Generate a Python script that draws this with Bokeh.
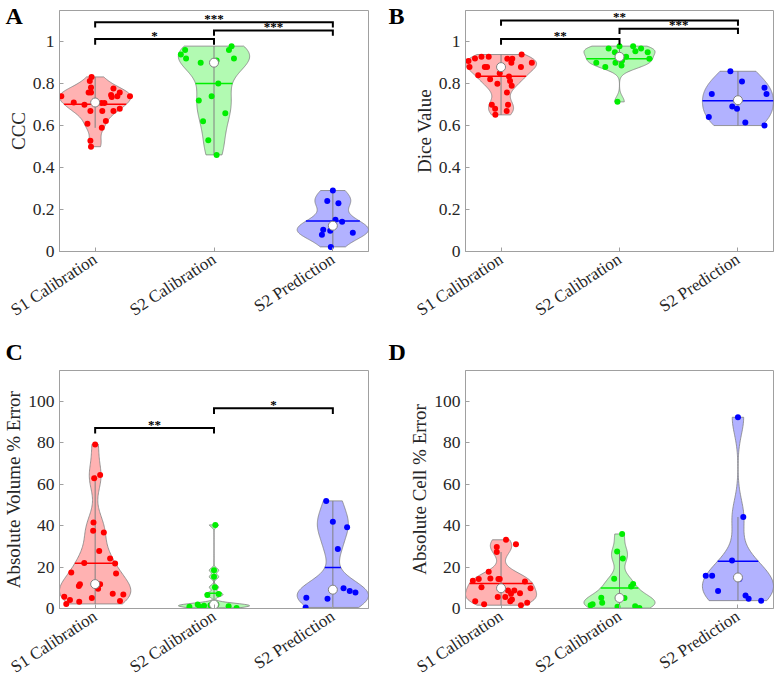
import numpy as np
from bokeh.plotting import figure
from bokeh.layouts import gridplot
from bokeh.models import FixedTicker, Range1d, Title
from bokeh.core.properties import value
from bokeh.embed import file_html
from bokeh.resources import INLINE

FONT = "Liberation Serif"
AXIS_GRAY = "#a0a0a0"
EDGE_GRAY = "#808080"
TEXT_DARK = "#262626"

categories = ["S1 Calibration", "S2 Calibration", "S2 Prediction"]
positions = [1, 2, 3]
colors = ["#ff0000", "#00ee00", "#0000ff"]

# ---------------- Panel A: CCC ----------------
ccc_s1 = [0.741, 0.711, 0.700, 0.833, 0.813, 0.783, 0.759, 0.759, 0.671, 0.610, 0.528, 0.500, 0.709,
          0.709, 0.671, 0.590, 0.623, 0.778, 0.747, 0.737, 0.741, 0.759, 0.741, 0.670, 0.681]
ccc_s1_jit = [-0.285, -0.180, -0.090, -0.030, -0.045, -0.035, -0.055, -0.035, -0.040, -0.065, -0.040, -0.035, 0.053,
              0.078, 0.060, 0.056, 0.090, 0.154, 0.134, 0.140, 0.187, 0.207, 0.293, 0.154, 0.207]
ccc_s2 = [0.940, 0.961, 0.921, 0.901, 0.912, 0.961, 0.980, 0.921, 0.802, 0.741, 0.720, 0.660, 0.621, 0.531, 0.461]
ccc_s2_jit = [-0.279, -0.243, -0.235, -0.112, 0.022, 0.126, 0.148, 0.168, 0.036, -0.020, -0.128, 0.095, -0.092, -0.048, 0.022]
ccc_p2 = [0.291, 0.241, 0.230, 0.151, 0.142, 0.090, 0.104, 0.080, 0.099, 0.022]
ccc_p2_jit = [0.000, -0.047, 0.047, 0.022, 0.078, 0.168, -0.081, -0.092, -0.022, -0.017]
ccc_br_from = [1, 1, 2]
ccc_br_to = [2, 3, 3]
ccc_br_top = [1.014, 1.094, 1.055]
ccc_br_foot = [0.987, 1.069, 1.030]
ccc_br_stars = ["*", "***", "***"]

# ---------------- Panel B: Dice ----------------
dice_s1 = [0.909, 0.921, 0.929, 0.929, 0.880, 0.841, 0.880, 0.880, 0.822, 0.800, 0.851, 0.700, 0.681, 0.652,
           0.920, 0.920, 0.901, 0.835, 0.814, 0.791, 0.759, 0.700, 0.670, 0.940, 0.880, 0.901, 0.880]
dice_s1_jit = [-0.275, -0.220, -0.165, -0.104, -0.266, -0.193, -0.137, -0.118, -0.092, -0.031, -0.011, -0.078, -0.050, -0.048,
               0.053, 0.095, 0.087, 0.067, 0.076, 0.090, 0.050, 0.059, 0.048, 0.174, 0.168, 0.260, 0.000]
dice_s2 = [0.969, 0.951, 0.980, 0.980, 0.969, 0.956, 0.951, 0.920, 0.901, 0.880, 0.901, 0.929, 0.912, 0.888, 0.714]
dice_s2_jit = [-0.092, -0.039, 0.000, 0.115, 0.182, 0.134, 0.238, 0.252, -0.196, -0.120, -0.034, 0.056, 0.022, 0.017, -0.017]
dice_p2 = [0.860, 0.811, 0.752, 0.781, 0.752, 0.692, 0.681, 0.642, 0.616, 0.601]
dice_p2_jit = [-0.064, 0.034, -0.221, 0.224, 0.241, -0.048, -0.008, -0.246, 0.062, 0.224]
dice_br_from = [1, 1, 2]
dice_br_to = [2, 3, 3]
dice_br_top = [1.014, 1.102, 1.063]
dice_br_foot = [0.987, 1.077, 1.038]
dice_br_stars = ["**", "**", "***"]

# ---------------- Panel C: Absolute Volume % Error ----------------
vol_s1 = [79.3, 62.9, 64.5, 41.5, 37.6, 36.7, 27.8, 22.0, 24.2, 21.8, 16.9, 17.4, 11.7, 10.9, 11.7, 9.5,
          5.1, 7.1, 6.8, 3.6, 5.7, 4.1, 2.2, 3.3, 11.8]
vol_s1_jit = [0.000, -0.008, 0.042, -0.014, -0.017, 0.073, 0.034, -0.092, 0.126, 0.168, 0.176, -0.201, -0.128, -0.137,
              0.042, 0.025, -0.028, 0.148, 0.237, 0.209, -0.260, -0.212, -0.243, -0.134, 0.005]
vol_s2 = [40.4, 18.5, 15.3, 10.3, 6.5, 7.0, 0.8, 1.9, 0.8, 1.3, 1.1, 0.3, 1.6, 1.9, 2.2]
vol_s2_jit = [0.011, 0.000, 0.000, 0.008, -0.056, 0.039, -0.207, -0.137, -0.120, -0.084, 0.123, 0.190, -0.030, 0.020, -0.010]
vol_p2 = [52.0, 41.9, 39.3, 28.8, 9.8, 8.4, 7.7, 5.2, 4.7, 0.5]
vol_p2_jit = [-0.056, 0.000, 0.120, 0.042, 0.090, 0.142, 0.190, -0.223, -0.045, -0.229]
vol_br_from = [1, 2]
vol_br_to = [2, 3]
vol_br_top = [87.2, 96.7]
vol_br_foot = [84.5, 94.0]
vol_br_stars = ["**", "*"]

# ---------------- Panel D: Absolute Cell % Error ----------------
cell_s1 = [13.4, 14.2, 3.5, 2.1, 10.3, 17.7, 14.5, 29.7, 27.3, 5.5, 14.2, 14.2, 5.5, 8.7, 33.2, 3.5, 4.3,
           8.7, 7.1, 31.1, 7.4, 1.6, 13.0, 2.8, 9.8]
cell_s1_jit = [-0.238, -0.188, -0.218, -0.143, -0.165, -0.104, -0.090, -0.036, -0.036, -0.028, -0.022, -0.011, 0.036,
               0.059, 0.042, 0.078, 0.092, 0.112, 0.084, 0.126, 0.160, 0.168, 0.202, 0.221, 0.249]
cell_s2 = [36.0, 27.6, 24.2, 14.4, 10.6, 11.8, 5.2, 2.8, 1.6, 2.1, 5.1, 0.8, 1.1, 0.2, 4.7]
cell_s2_jit = [0.022, -0.020, 0.028, -0.045, 0.098, 0.115, -0.154, -0.146, -0.244, -0.227, 0.042, -0.017, 0.132, 0.168, -0.005]
cell_p2 = [92.4, 44.2, 23.2, 15.8, 15.8, 8.5, 6.3, 4.7, 3.8, 14.2]
cell_p2_jit = [0.000, 0.045, -0.050, -0.272, -0.218, -0.168, 0.064, 0.090, 0.196, 0.012]

ccc_ticks = [0, 0.2, 0.4, 0.6, 0.8, 1]
ccc_tick_text = ["0", "0.2", "0.4", "0.6", "0.8", "1"]
pct_ticks = [0, 20, 40, 60, 80, 100]
pct_tick_text = ["0", "20", "40", "60", "80", "100"]

X_MIN, X_MAX = 0.7, 3.3


def violin_stats(vals, half_width=0.3):
    x = np.asarray(vals, dtype=float)
    n = x.size
    med = np.median(x)
    sig = np.median(np.abs(x - med)) / 0.6745
    bw = sig * (4.0 / (3.0 * n)) ** 0.2
    grid = np.linspace(x.min(), x.max(), 120)
    dens = np.exp(-0.5 * ((grid[:, None] - x[None, :]) / bw) ** 2).sum(axis=1)
    dens = dens / (n * bw * np.sqrt(2 * np.pi))
    scale = half_width / dens.max()
    q1, q3 = np.quantile(x, [0.25, 0.75], method="hazen")
    iqr = q3 - q1
    lo = max(q1 - 1.5 * iqr, x[x >= q1 - 1.5 * iqr].min())
    hi = min(q3 + 1.5 * iqr, x[x <= q3 + 1.5 * iqr].max())
    mean = x.mean()
    mean_hw = np.interp(mean, grid, dens) * scale
    return grid, dens * scale, med, mean, mean_hw, lo, hi


def build_panel(series, jitters, y_max, y_ticks, y_tick_text, y_title, letter,
                br_from, br_to, br_top, br_foot, br_stars, geom):
    w, h, bl, brd, bt, bb, letter_offset, letter_standoff = geom
    p = figure(width=w, height=h, x_range=Range1d(X_MIN, X_MAX), y_range=Range1d(0, y_max),
               output_backend="svg", toolbar_location=None,
               min_border_left=bl, min_border_right=brd, min_border_top=bt, min_border_bottom=bb)
    p.xgrid.visible = False
    p.ygrid.visible = False
    p.outline_line_color = AXIS_GRAY
    p.outline_line_width = 1
    p.background_fill_color = "white"
    p.border_fill_color = "white"

    # panel letter as a left-aligned title pulled into the left margin
    try:
        t = Title(text=letter, align="left", vertical_align="bottom", offset=letter_offset,
                  standoff=letter_standoff, text_font=FONT, text_font_size="24px",
                  text_font_style="bold", text_color="black")
        p.add_layout(t, "above")
    except Exception:
        pass

    stats = [violin_stats(s) for s in series]
    for pos, col, st in zip(positions, colors, stats):
        grid, hw = st[0], st[1]
        xs = np.concatenate([pos + hw, (pos - hw)[::-1]])
        ys = np.concatenate([grid, grid[::-1]])
        p.patch(xs, ys, fill_color=col, fill_alpha=0.3, line_color=EDGE_GRAY, line_width=0.8)
    p.segment(x0=positions, x1=positions, y0=[s[5] for s in stats], y1=[s[6] for s in stats],
              line_color=EDGE_GRAY, line_width=1)
    p.segment(x0=[pos - s[4] for pos, s in zip(positions, stats)],
              x1=[pos + s[4] for pos, s in zip(positions, stats)],
              y0=[s[3] for s in stats], y1=[s[3] for s in stats],
              line_color=colors, line_width=1.5)
    for pos, col, s, j in zip(positions, colors, series, jitters):
        p.scatter(x=[pos + d for d in j], y=s, size=6, fill_color=col, line_color=None)
    p.scatter(x=positions, y=[s[2] for s in stats], size=9, fill_color="white",
              line_color=EDGE_GRAY, line_width=1)

    if br_from:
        xs = [[a, a, b, b] for a, b in zip(br_from, br_to)]
        ys = [[f, t, t, f] for t, f in zip(br_top, br_foot)]
        p.multi_line(xs, ys, line_color="black", line_width=2, line_join="miter")
        p.text(x=[(a + b) / 2 for a, b in zip(br_from, br_to)], y=br_top, text=br_stars,
               text_font=value(FONT), text_font_size="13px", text_font_style="bold",
               text_align="center", text_baseline="alphabetic", text_color="black", y_offset=-4)

    p.xaxis.ticker = FixedTicker(ticks=positions)
    p.xaxis.major_label_overrides = {pos: c for pos, c in zip(positions, categories)}
    p.xaxis.major_label_orientation = 0.58
    p.yaxis.ticker = FixedTicker(ticks=y_ticks)
    p.yaxis.major_label_overrides = {t: s for t, s in zip(y_ticks, y_tick_text)}
    for ax in (p.xaxis, p.yaxis):
        ax.axis_line_color = AXIS_GRAY
        ax.major_tick_line_color = AXIS_GRAY
        ax.major_tick_in = 4
        ax.major_tick_out = 0
        ax.minor_tick_line_color = None
        ax.major_label_text_font = FONT
        ax.major_label_text_color = TEXT_DARK
    p.xaxis.major_label_text_font_size = "17px"
    p.yaxis.major_label_text_font_size = "17.5px"
    p.yaxis.major_label_standoff = 5
    p.xaxis.major_label_standoff = 6
    p.yaxis.axis_label = y_title
    p.yaxis.axis_label_text_font = FONT
    p.yaxis.axis_label_text_font_size = "19px"
    p.yaxis.axis_label_text_font_style = "normal"
    p.yaxis.axis_label_text_color = TEXT_DARK
    p.yaxis.axis_label_standoff = 1
    return p


pA = build_panel([ccc_s1, ccc_s2, ccc_p2], [ccc_s1_jit, ccc_s2_jit, ccc_p2_jit], 1.15,
                 ccc_ticks, ccc_tick_text, "CCC", "A",
                 ccc_br_from, ccc_br_to, ccc_br_top, ccc_br_foot, ccc_br_stars,
                 (385, 330, 57, 17, 10, 76, -54, -36))
pB = build_panel([dice_s1, dice_s2, dice_p2], [dice_s1_jit, dice_s2_jit, dice_p2_jit], 1.15,
                 ccc_ticks, ccc_tick_text, "Dice Value", "B",
                 dice_br_from, dice_br_to, dice_br_top, dice_br_foot, dice_br_stars,
                 (392, 330, 80, 4, 10, 76, -77, -36))
pC = build_panel([vol_s1, vol_s2, vol_p2], [vol_s1_jit, vol_s2_jit, vol_p2_jit], 115,
                 pct_ticks, pct_tick_text, "Absolute Volume % Error", "C",
                 vol_br_from, vol_br_to, vol_br_top, vol_br_foot, vol_br_stars,
                 (385, 357, 57, 17, 39, 74, -54, 12))
pD = build_panel([cell_s1, cell_s2, cell_p2], [cell_s1_jit, cell_s2_jit, cell_p2_jit], 115,
                 pct_ticks, pct_tick_text, "Absolute Cell % Error", "D",
                 [], [], [], [], [],
                 (392, 357, 80, 4, 39, 74, -77, 12))

grid = gridplot([[pA, pB], [pC, pD]], toolbar_location=None)
open("out.html", "w").write(file_html(grid, INLINE))
